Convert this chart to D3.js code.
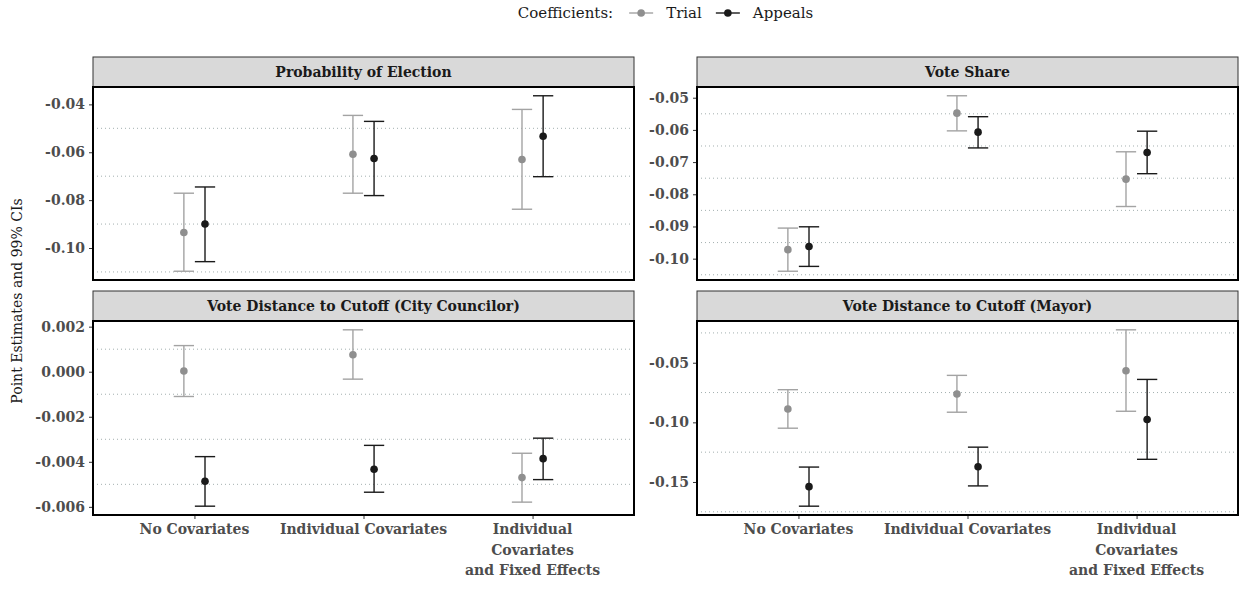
<!DOCTYPE html>
<html>
<head>
<meta charset="utf-8">
<script src="https://cdn.jsdelivr.net/npm/d3@7"></script>
<style>
  html, body { margin: 0; padding: 0; background: #ffffff; }
  svg { display: block; }
  text { font-family: "DejaVu Serif", "Liberation Serif", serif; }
</style>
</head>
<body>
<svg id="chart" width="1239" height="590"></svg>
<script>
// ---------------- data ----------------
const categories = ["No Covariates", "Individual Covariates", "Individual Covariates and Fixed Effects"];
const categoryLabelLines = [["No Covariates"], ["Individual Covariates"], ["Individual", "Covariates", "and Fixed Effects"]];
const seriesNames = ["Trial", "Appeals"];
const panelTitles = ["Probability of Election", "Vote Share", "Vote Distance to Cutoff (City Councilor)", "Vote Distance to Cutoff (Mayor)"];

// Probability of Election
const probTrialEst = [-0.0935, -0.0608, -0.0630];
const probTrialLo  = [-0.1097, -0.0771, -0.0838];
const probTrialHi  = [-0.0771, -0.0446, -0.0421];
const probAppealsEst = [-0.0900, -0.0626, -0.0533];
const probAppealsLo  = [-0.1057, -0.0781, -0.0702];
const probAppealsHi  = [-0.0745, -0.0471, -0.0364];

// Vote Share
const shareTrialEst = [-0.0972, -0.0548, -0.0753];
const shareTrialLo  = [-0.1039, -0.0603, -0.0838];
const shareTrialHi  = [-0.0905, -0.0494, -0.0668];
const shareAppealsEst = [-0.0962, -0.0607, -0.0670];
const shareAppealsLo  = [-0.1024, -0.0656, -0.0736];
const shareAppealsHi  = [-0.0901, -0.0559, -0.0604];

// Vote Distance to Cutoff (City Councilor)
const councilTrialEst = [0.00003, 0.00075, -0.00470];
const councilTrialLo  = [-0.00110, -0.00033, -0.00579];
const councilTrialHi  = [0.00116, 0.00186, -0.00362];
const councilAppealsEst = [-0.00486, -0.00433, -0.00386];
const councilAppealsLo  = [-0.00597, -0.00535, -0.00479];
const councilAppealsHi  = [-0.00377, -0.00327, -0.00295];

// Vote Distance to Cutoff (Mayor)
const mayorTrialEst = [-0.0888, -0.0762, -0.0567];
const mayorTrialLo  = [-0.1049, -0.0915, -0.0907];
const mayorTrialHi  = [-0.0726, -0.0606, -0.0224];
const mayorAppealsEst = [-0.1539, -0.1372, -0.0976];
const mayorAppealsLo  = [-0.1703, -0.1533, -0.1310];
const mayorAppealsHi  = [-0.1375, -0.1208, -0.0640];

// tick values and labels per panel
const probTicks = [-0.10, -0.08, -0.06, -0.04];
const probTickLabels = ["-0.10", "-0.08", "-0.06", "-0.04"];
const shareTicks = [-0.10, -0.09, -0.08, -0.07, -0.06, -0.05];
const shareTickLabels = ["-0.10", "-0.09", "-0.08", "-0.07", "-0.06", "-0.05"];
const councilTicks = [-0.006, -0.004, -0.002, 0.000, 0.002];
const councilTickLabels = ["-0.006", "-0.004", "-0.002", "0.000", "0.002"];
const mayorTicks = [-0.15, -0.10, -0.05];
const mayorTickLabels = ["-0.15", "-0.10", "-0.05"];

const legendTitle = "Coefficients:";
const yAxisTitle = "Point Estimates and 99% CIs";

// ---------------- assemble ----------------
const panelData = [
  { title: panelTitles[0], ticks: probTicks, labels: probTickLabels,
    series: [[probTrialEst, probTrialLo, probTrialHi], [probAppealsEst, probAppealsLo, probAppealsHi]] },
  { title: panelTitles[1], ticks: shareTicks, labels: shareTickLabels,
    series: [[shareTrialEst, shareTrialLo, shareTrialHi], [shareAppealsEst, shareAppealsLo, shareAppealsHi]] },
  { title: panelTitles[2], ticks: councilTicks, labels: councilTickLabels,
    series: [[councilTrialEst, councilTrialLo, councilTrialHi], [councilAppealsEst, councilAppealsLo, councilAppealsHi]] },
  { title: panelTitles[3], ticks: mayorTicks, labels: mayorTickLabels,
    series: [[mayorTrialEst, mayorTrialLo, mayorTrialHi], [mayorAppealsEst, mayorAppealsLo, mayorAppealsHi]] }
];

// ---------------- layout ----------------
const svg = d3.select("#chart");
const colLeft = [93, 697];
const panelW = 541;
const rowTop = [87, 321];
const panelH = [193, 194];
const stripH = 30;

const barColor = ["#a3a3a3", "#1a1a1a"];
const ptColor = ["#8f8f8f", "#1a1a1a"];
const dodge = 0.0625;   // in category units
const capHalf = 0.06;   // in category units

panelData.forEach((p, i) => {
  const col = i % 2, row = Math.floor(i / 2);
  const x0 = colLeft[col], x1 = x0 + panelW;
  const y0 = rowTop[row], y1 = y0 + panelH[row];

  const x = d3.scalePoint().domain(categories).range([x0, x1]).padding(0.6);
  const step = x.step();

  const allVals = p.series.flatMap(s => s[1].concat(s[2]));
  const mn = d3.min(allVals), mx = d3.max(allVals);
  const pad = (mx - mn) * 0.05;
  const y = d3.scaleLinear().domain([mn - pad, mx + pad]).range([y1, y0]);

  const g = svg.append("g");

  // strip
  g.append("rect")
    .attr("x", x0).attr("y", y0 - stripH)
    .attr("width", panelW).attr("height", stripH)
    .attr("fill", "#d9d9d9").attr("stroke", "#333333").attr("stroke-width", 1);
  g.append("text")
    .attr("x", (x0 + x1) / 2).attr("y", y0 - stripH / 2)
    .attr("dy", "0.35em").attr("text-anchor", "middle")
    .attr("font-size", 14).attr("font-weight", "bold").attr("fill", "#1a1a1a")
    .text(p.title);

  // minor grid lines (dotted)
  const tstep = p.ticks[1] - p.ticks[0];
  const minors = [];
  for (let k = -1; k < p.ticks.length; k++) {
    const v = p.ticks[0] + tstep * (k + 0.5);
    const [dlo, dhi] = y.domain();
    if (v >= dlo && v <= dhi) minors.push(v);
  }
  g.selectAll("line.minor").data(minors).join("line")
    .attr("x1", x0).attr("x2", x1)
    .attr("y1", d => y(d)).attr("y2", d => y(d))
    .attr("stroke", "#8c9a9a").attr("stroke-width", 0.8)
    .attr("stroke-dasharray", "1,3");

  // y axis
  const yAxis = d3.axisLeft(y).tickValues(p.ticks)
    .tickFormat((d, k) => p.labels[k]).tickSize(4).tickPadding(4);
  const ya = g.append("g").attr("transform", `translate(${x0},0)`).call(yAxis);
  ya.select(".domain").remove();
  ya.selectAll(".tick line").attr("stroke", "#333333").attr("stroke-width", 1);
  ya.selectAll(".tick text")
    .attr("font-family", "DejaVu Serif, serif").attr("font-size", 14)
    .attr("font-weight", "bold").attr("fill", "#4d4d4d");

  // x axis on bottom row
  if (row === 1) {
    const xAxis = d3.axisBottom(x).tickSize(4).tickFormat("");
    const xa = g.append("g").attr("transform", `translate(0,${y1})`).call(xAxis);
    xa.select(".domain").remove();
    xa.selectAll(".tick line").attr("stroke", "#333333").attr("stroke-width", 1);
    categories.forEach((c, k) => {
      const t = g.append("text")
        .attr("x", x(c)).attr("y", y1 + 19)
        .attr("text-anchor", "middle")
        .attr("font-size", 14).attr("font-weight", "bold").attr("fill", "#4d4d4d");
      categoryLabelLines[k].forEach((ln, j) => {
        t.append("tspan").attr("x", x(c)).attr("y", y1 + 19 + j * 20.5).text(ln);
      });
    });
  }

  // error bars and points
  p.series.forEach((s, si) => {
    const off = (si === 0 ? -dodge : dodge) * step;
    const [est, lo, hi] = s;
    const sg = g.append("g");
    categories.forEach((c, k) => {
      const cx = x(c) + off;
      const hw = capHalf * step;
      sg.append("line").attr("x1", cx).attr("x2", cx)
        .attr("y1", y(lo[k])).attr("y2", y(hi[k]))
        .attr("stroke", barColor[si]).attr("stroke-width", 1.4);
      sg.append("line").attr("x1", cx - hw).attr("x2", cx + hw)
        .attr("y1", y(lo[k])).attr("y2", y(lo[k]))
        .attr("stroke", barColor[si]).attr("stroke-width", 1.4);
      sg.append("line").attr("x1", cx - hw).attr("x2", cx + hw)
        .attr("y1", y(hi[k])).attr("y2", y(hi[k]))
        .attr("stroke", barColor[si]).attr("stroke-width", 1.4);
      sg.append("circle").attr("cx", cx).attr("cy", y(est[k]))
        .attr("r", 3.8).attr("fill", ptColor[si]);
    });
  });

  // panel border
  g.append("rect")
    .attr("x", x0).attr("y", y0).attr("width", panelW).attr("height", panelH[row])
    .attr("fill", "none").attr("stroke", "#000000").attr("stroke-width", 2);
});

// y axis title
svg.append("text")
  .attr("transform", "translate(17,301) rotate(-90)")
  .attr("text-anchor", "middle").attr("dy", "0.35em")
  .attr("font-size", 14).attr("fill", "#1a1a1a")
  .text(yAxisTitle);

// legend
const lg = svg.append("g");
let cur = 0;
const lt = lg.append("text").attr("x", cur).attr("y", 13).attr("dy", "0.35em")
  .attr("font-size", 15).attr("fill", "#1a1a1a").text(legendTitle);
cur += lt.node().getComputedTextLength() + 16;
seriesNames.forEach((nm, si) => {
  lg.append("line").attr("x1", cur).attr("x2", cur + 24).attr("y1", 13).attr("y2", 13)
    .attr("stroke", barColor[si]).attr("stroke-width", 1.4);
  lg.append("circle").attr("cx", cur + 12).attr("cy", 13).attr("r", 3.8).attr("fill", ptColor[si]);
  cur += 24 + 13;
  const tt = lg.append("text").attr("x", cur).attr("y", 13).attr("dy", "0.35em")
    .attr("font-size", 15).attr("fill", "#1a1a1a").text(nm);
  cur += tt.node().getComputedTextLength() + 14;
});
cur -= 14;
const centerX = (colLeft[0] + colLeft[1] + panelW) / 2;
lg.attr("transform", `translate(${centerX - cur / 2},0)`);
</script>
</body>
</html>
